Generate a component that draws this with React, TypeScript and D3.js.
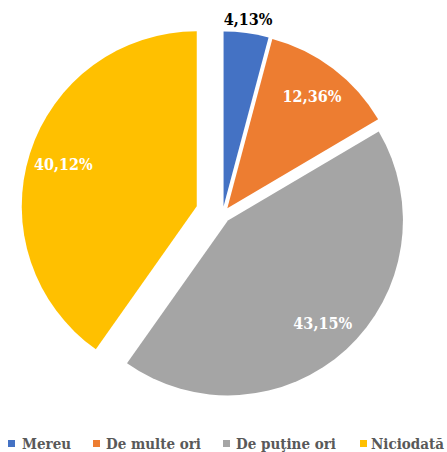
import React from "react";
import * as d3 from "d3";

const categories = ["Mereu", "De multe ori", "De puţine ori", "Niciodată"];
const values = [4.13, 12.36, 43.15, 40.12];
const labels = ["4,13%", "12,36%", "43,15%", "40,12%"];
const colors = ["#4472C4", "#ED7D31", "#A5A5A5", "#FFC000"];

const W = 447;
const H = 452;
const cx = 222.5;
const cy = 214.5;
const R = 175;
const explode = [8, 8, 8, 27];
const labelOutside = [true, false, false, false];
const FONT = "DejaVu Serif Condensed, DejaVu Serif";

export default function App() {
  const pie = d3.pie<number>().sort(null).value((d) => d).startAngle(0).endAngle(2 * Math.PI);
  const arcs = pie(values);
  const arcGen = d3.arc<d3.PieArcDatum<number>>().innerRadius(0).outerRadius(R);

  const legendItems = [
    { sq: 8, tx: 22 },
    { sq: 93, tx: 106 },
    { sq: 223, tx: 236 },
    { sq: 360, tx: 371 },
  ];

  return (
    <svg
      width={W}
      height={H}
      style={{ position: "absolute", left: 0, top: 0, background: "#fff" }}
    >
      {arcs.map((a, i) => {
        const mid = (a.startAngle + a.endAngle) / 2;
        const ox = explode[i] * Math.sin(mid);
        const oy = -explode[i] * Math.cos(mid);
        const lr = labelOutside[i] ? R + 14 : R * 0.8;
        const lx = lr * Math.sin(mid);
        const ly = -lr * Math.cos(mid);
        return (
          <g key={i} transform={`translate(${cx + ox},${cy + oy})`}>
            <path d={arcGen(a) || ""} fill={colors[i]} />
            <text
              x={lx}
              y={ly}
              dy="0.35em"
              textAnchor="middle"
              style={{ fontFamily: FONT, fontWeight: 700, fontSize: 16 }}
              fill={labelOutside[i] ? "#000" : "#fff"}
            >
              {labels[i]}
            </text>
          </g>
        );
      })}
      {categories.map((c, i) => (
        <g key={c}>
          <rect x={legendItems[i].sq} y={440} width={7} height={7} fill={colors[i]} />
          <text
            x={legendItems[i].tx}
            y={449}
            style={{ fontFamily: FONT, fontWeight: 700, fontSize: 15 }}
            fill="#595959"
          >
            {c}
          </text>
        </g>
      ))}
    </svg>
  );
}
